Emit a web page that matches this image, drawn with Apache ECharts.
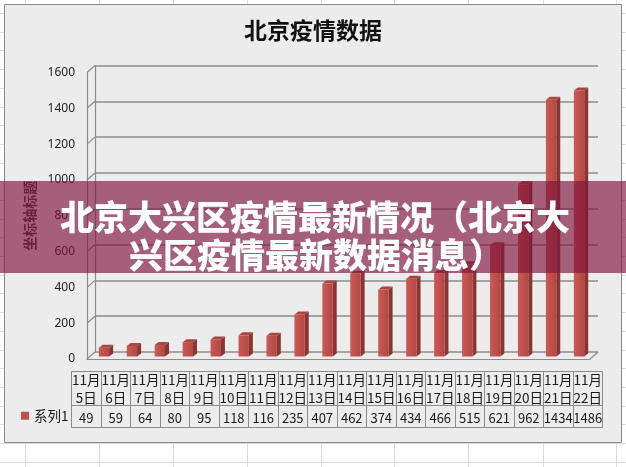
<!DOCTYPE html>
<html>
<head>
<meta charset="utf-8">
<title>北京疫情数据</title>
<script src="https://cdn.jsdelivr.net/npm/echarts@6/dist/echarts.min.js"></script>
<style>
  html, body { margin: 0; padding: 0; background: #fff; }
  #chart { width: 626px; height: 467px; }
</style>
</head>
<body>
<div id="chart"></div>
<script>
// 数据
const categories = ['11月5日', '11月6日', '11月7日', '11月8日', '11月9日', '11月10日', '11月11日', '11月12日', '11月13日',
  '11月14日', '11月15日', '11月16日', '11月17日', '11月18日', '11月19日', '11月20日', '11月21日', '11月22日'];
const values = [49, 59, 64, 80, 95, 118, 116, 235, 407, 462, 374, 434, 466, 515, 621, 962, 1434, 1486];
const yTicks = [0, 200, 400, 600, 800, 1000, 1200, 1400, 1600];
const seriesName = '系列1';
const chartTitle = '北京疫情数据';
const axisTitle = '坐标轴标题';
const bannerLines = ['北京大兴区疫情最新情况（北京大', '兴区疫情最新数据消息）'];

const CJK = '"Noto Sans CJK SC"';
const GRID_LINE = '#8c8c8c';
const DEPTH = [8, -7];        // 墙的纵深
const BAR_OFF = [3, -2.5];    // 柱子前面相对位置
const BAR_DEPTH = [4, -3];    // 柱子厚度

const chart = echarts.init(document.getElementById('chart'));

function renderBar(params, api) {
  const i = api.value(0);
  const v = api.value(1);
  const top = api.coord([i, v]);
  const base = api.coord([i, 0]);
  const band = api.size([1, 0])[0];
  const w = band * 0.37;
  const x1 = top[0] - w / 2 + BAR_OFF[0], x2 = x1 + w;
  const y1 = top[1] + BAR_OFF[1], y2 = base[1] + BAR_OFF[1];
  const dx = BAR_DEPTH[0], dy = BAR_DEPTH[1];
  return {
    type: 'group',
    children: [
      { type: 'polygon', shape: { points: [[x2, y1], [x2 + dx, y1 + dy], [x2 + dx, y2 + dy], [x2, y2]] },
        style: { fill: '#8a3532' } },
      { type: 'polygon', shape: { points: [[x1, y1], [x1 + dx, y1 + dy], [x2 + dx, y1 + dy], [x2, y1]] },
        style: { fill: '#a9443f' } },
      { type: 'rect', shape: { x: x1, y: y1, width: w, height: y2 - y1 },
        style: { fill: new echarts.graphic.LinearGradient(0, 0, 1, 0, [
          { offset: 0, color: '#c95a56' }, { offset: 0.5, color: '#c0504d' }, { offset: 1, color: '#b4463f' }]) } }
    ]
  };
}

// 侧墙和地板的斜线
function renderWall(params, api) {
  const cs = params.coordSys;
  const y = api.coord([0, api.value(1)])[1];
  const children = [
    { type: 'line', shape: { x1: cs.x, y1: y, x2: cs.x + DEPTH[0], y2: y + DEPTH[1] },
      style: { stroke: GRID_LINE, lineWidth: 1.2 } }
  ];
  if (api.value(1) === 0) {
    const xr = cs.x + cs.width;
    children.push({ type: 'line', shape: { x1: xr, y1: y, x2: xr + DEPTH[0], y2: y + DEPTH[1] },
      style: { stroke: GRID_LINE, lineWidth: 1.2 } });
  }
  return { type: 'group', children: children };
}

// 表格背景网格线
const sheetLines = [];
[25, 99, 173, 247, 321, 394, 468, 543, 616].forEach(function (x) {
  sheetLines.push({ type: 'line', z: -20, shape: { x1: x + 0.5, y1: 0, x2: x + 0.5, y2: 467 },
    style: { stroke: '#d9dbde', lineWidth: 1 } });
});
for (let y = 13; y < 467; y += 18.7) {
  sheetLines.push({ type: 'line', z: -20, shape: { x1: 0, y1: Math.round(y) + 0.5, x2: 626, y2: Math.round(y) + 0.5 },
    style: { stroke: '#d9dbde', lineWidth: 1 } });
}

const FRONT = { left: 87, top: 72.5, width: 503, height: 286.5 };

chart.setOption({
  backgroundColor: '#ffffff',
  animation: false,
  title: {
    text: chartTitle,
    left: 'center',
    top: 14,
    textStyle: { fontFamily: CJK, fontSize: 23, fontWeight: 'bold', color: '#111' }
  },
  legend: {
    data: [seriesName],
    left: 21,
    top: 409,
    padding: 0,
    icon: 'rect',
    itemWidth: 8,
    itemHeight: 8,
    itemGap: 4,
    selectedMode: false,
    textStyle: { fontFamily: CJK, fontSize: 13.5, color: '#1a1a1a' }
  },
  grid: [
    FRONT,
    { left: FRONT.left + DEPTH[0], top: FRONT.top + DEPTH[1], width: FRONT.width, height: FRONT.height },
    { left: 71.5, top: 371.5, width: 531, height: 34, show: true, borderColor: GRID_LINE, borderWidth: 1,
      backgroundColor: 'transparent' },
    { left: 71.5, top: 405.5, width: 531, height: 22, show: true, borderColor: GRID_LINE, borderWidth: 1,
      backgroundColor: 'transparent' }
  ],
  xAxis: [
    { gridIndex: 0, type: 'category', data: categories,
      axisLine: { show: true, lineStyle: { color: GRID_LINE, width: 1.2 } },
      axisTick: { show: false }, axisLabel: { show: false }, splitLine: { show: false } },
    { gridIndex: 1, type: 'category', data: categories, show: false },
    { gridIndex: 2, type: 'category', data: categories, position: 'top',
      axisLine: { show: false }, axisTick: { show: false },
      splitLine: { show: true, interval: 0, lineStyle: { color: GRID_LINE, width: 1 } },
      axisLabel: { inside: true, interval: 0, margin: -1, lineHeight: 18, fontSize: 13.5, fontFamily: CJK, color: '#1a1a1a',
        formatter: function (v) { return v.replace('月', '月\n'); } } },
    { gridIndex: 3, type: 'category', data: categories, position: 'bottom',
      axisLine: { show: false }, axisTick: { show: false },
      splitLine: { show: true, interval: 0, lineStyle: { color: GRID_LINE, width: 1 } },
      axisLabel: { inside: true, interval: 0, margin: 3, fontSize: 13, fontFamily: CJK, color: '#1a1a1a',
        formatter: function (v, i) { return String(values[i]); } } }
  ],
  yAxis: [
    { gridIndex: 0, type: 'value', min: yTicks[0], max: yTicks[yTicks.length - 1], interval: yTicks[1] - yTicks[0],
      name: axisTitle, nameLocation: 'middle', nameGap: 42, nameRotate: 90,
      nameTextStyle: { fontFamily: CJK, fontSize: 14, fontWeight: 'bold', color: '#3a3a3a' },
      axisLine: { show: true, lineStyle: { color: GRID_LINE, width: 1.2 } },
      axisTick: { show: false }, splitLine: { show: false },
      axisLabel: { margin: 12, fontFamily: 'Noto Sans', fontSize: 12, color: '#222',
        formatter: function (v) { return String(v); } } },
    { gridIndex: 1, type: 'value', min: yTicks[0], max: yTicks[yTicks.length - 1], interval: yTicks[1] - yTicks[0],
      axisLine: { show: true, lineStyle: { color: GRID_LINE, width: 1.2 } },
      axisTick: { show: false }, axisLabel: { show: false },
      splitLine: { show: true, lineStyle: { color: GRID_LINE, width: 1.5 } } },
    { gridIndex: 2, type: 'value', show: false },
    { gridIndex: 3, type: 'value', show: false }
  ],
  series: [
    { type: 'custom', name: 'wall', xAxisIndex: 0, yAxisIndex: 0, silent: true, z: 1,
      renderItem: renderWall, data: yTicks.map(function (t) { return [0, t]; }) },
    { type: 'custom', name: seriesName, xAxisIndex: 0, yAxisIndex: 0, z: 3,
      itemStyle: { color: '#c0504d' },
      renderItem: renderBar, data: values.map(function (v, i) { return [i, v]; }) }
  ],
  graphic: sheetLines.concat([
    { type: 'rect', z: -10, shape: { x: 4.5, y: 4.5, width: 617, height: 438 },
      style: { fill: '#ececec', stroke: '#8a8a8a', lineWidth: 1 } },
    { type: 'rect', z: 100, shape: { x: 0, y: 181, width: 626, height: 92 },
      style: { fill: 'rgba(128, 20, 60, 0.65)' } },
    { type: 'text', z: 101, x: 315, y: 217,
      style: { text: bannerLines[0], fill: '#fff', font: '900 34px ' + CJK, align: 'center', verticalAlign: 'middle',
        textAlign: 'center', textVerticalAlign: 'middle' } },
    { type: 'text', z: 101, x: 316, y: 255,
      style: { text: bannerLines[1], fill: '#fff', font: '900 34px ' + CJK, align: 'center', verticalAlign: 'middle',
        textAlign: 'center', textVerticalAlign: 'middle' } }
  ])
});
</script>
</body>
</html>
